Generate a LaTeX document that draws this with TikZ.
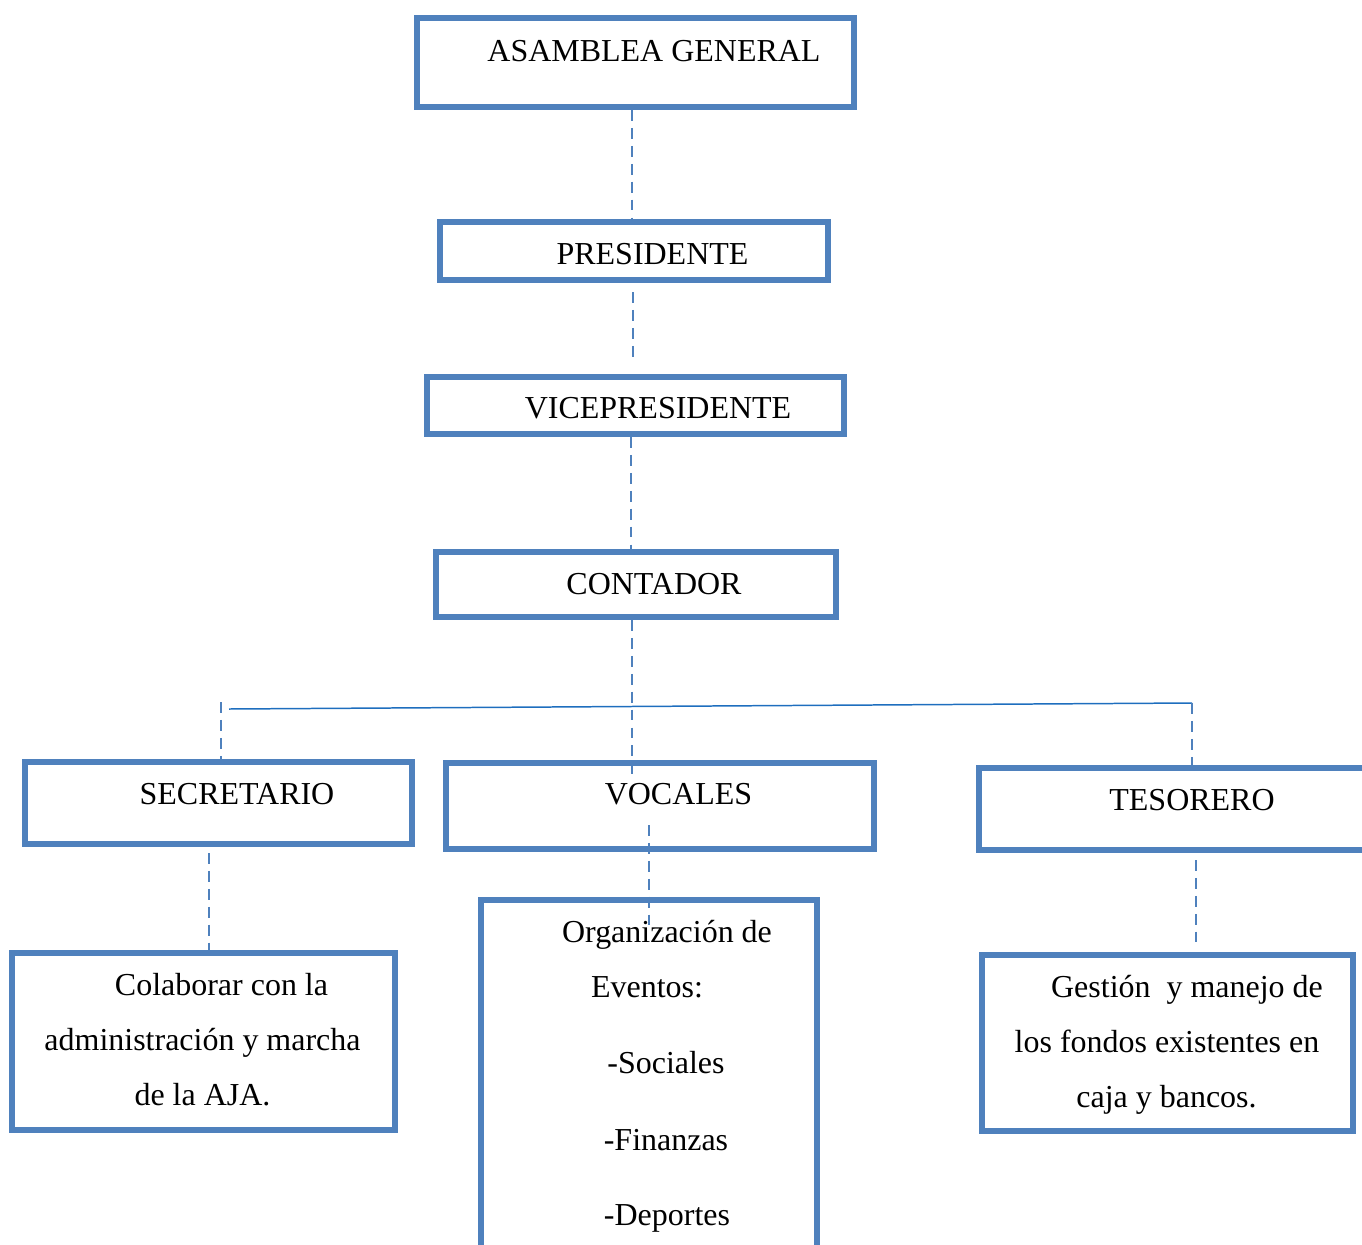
\documentclass[tikz,border=0pt]{standalone}
\usepackage{fontspec}
\setmainfont{Liberation Serif}
\definecolor{boxblue}{RGB}{79,129,189}
\definecolor{busblue}{RGB}{30,110,190}
\def\px{0.02cm}
\tikzset{
  box/.style={
    draw=boxblue,
    rectangle,
    line width=3.4pt,
    inner sep=0pt
  },
  txt/.style={anchor=base, inner sep=0pt, text=black,
    font=\fontsize{18.2}{22}\selectfont},
  dashline/.style={draw=boxblue, line width=1.4pt, dash pattern=on 6.2pt off 4pt},
  busline/.style={draw=busblue, line width=0.85pt}
}

\begin{document}
\begin{tikzpicture}[x=0.02cm, y=-0.02cm]

\useasboundingbox (0,0) rectangle (1362,1244);

% Boxes
\foreach \n/\x/\y/\w/\h in {
  asamblea/635.5/62.5/437/89,
  presidente/634/251/388/58,
  vicepresidente/635.5/405.5/417/57,
  contador/636/584.5/400/65,
  secretario/218.5/803/387/82,
  vocales/660/806/428/86,
  tesorero/1178/809/398/82,
  colaborar/203.5/1041.5/383/177,
  organizacion/649/1083.5/336/367,
  gestion/1167.5/1043/371/176} {
  \node[box, minimum width=\w*\px, minimum height=\h*\px] (\n) at (\x,\y) {};
}

% Titles and texts
\foreach \n/\x/\y/\t in {
  tAsamblea/654/61/{ASAMBLEA GENERAL},
  tPresidente/652.5/264/{PRESIDENTE},
  tVice/658/418/{VICEPRESIDENTE},
  tContador/654/594/{CONTADOR},
  tSecretario/237/804/{SECRETARIO},
  tVocales/678.5/804/{VOCALES},
  tTesorero/1192/810/{TESORERO},
  colA/221.5/995/{Colaborar con la},
  colB/202.5/1050/{administración y marcha},
  colC/202.5/1105/{de la AJA.},
  orgA/667/942/{Organización de},
  orgB/647/997/{Eventos:},
  orgC/666/1073/{-Sociales},
  orgD/666/1150/{-Finanzas},
  orgE/667/1225/{-Deportes},
  gesA/1187/997/{Gestión\ \ y manejo de},
  gesB/1167/1052/{los fondos existentes en},
  gesC/1166.5/1107/{caja y bancos.}} {
  \node[txt] (\n) at (\x,\y) {\t};
}

% Vertical chain
\coordinate (presBot) at (633,292);
\coordinate (viceTop) at (633,357);
\draw[dashline] (asamblea.south -| 632,0) -- (presidente.north -| 632,0);
\draw[dashline] (presBot) -- (viceTop);
\draw[dashline] (vicepresidente.south -| 631,0) -- (contador.north -| 631,0);

% Bus to the third level
\coordinate (busL) at (229,709);
\coordinate (busR) at (1192,703);
\coordinate (secTop) at (221,702);
\coordinate (vocTop) at (632,780);
\draw[busline] (busL) -- (busR);
\draw[dashline] (contador.south -| vocTop) -- (vocTop);
\draw[dashline] (secTop) -- (secTop |- secretario.north);
\draw[dashline] (busR) -- (busR |- tesorero.north);

% Down to the tasks
\coordinate (secBot) at (209,853);
\coordinate (vocBot) at (649,825);
\coordinate (orgIn) at (649,925);
\coordinate (tesBot) at (1196,860);
\coordinate (gesTop) at (1196,942);
\draw[dashline] (secBot) -- (secBot |- colaborar.north);
\draw[dashline] (vocBot) -- (orgIn);
\draw[dashline] (tesBot) -- (gesTop);

\end{tikzpicture}
\end{document}
